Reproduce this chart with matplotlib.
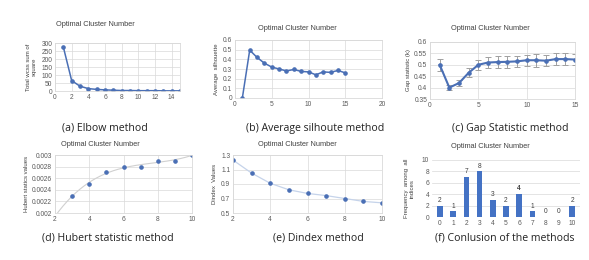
import numpy as np
import matplotlib
matplotlib.use("Agg")
import matplotlib.pyplot as plt

# ---- data ----
elbow_k = list(range(1, 16))
elbow_wss = [275, 65, 30, 15, 10, 7, 5, 3, 3, 2, 2, 2, 1, 1, 1]

sil_k = list(range(1, 16))
sil_vals = [0.0, 0.495, 0.42, 0.36, 0.32, 0.30, 0.28, 0.295, 0.275, 0.27, 0.24, 0.27, 0.265, 0.285, 0.26]

gap_k = list(range(1, 16))
gap_vals = [0.50, 0.40, 0.42, 0.465, 0.50, 0.51, 0.512, 0.513, 0.515, 0.52, 0.52, 0.518, 0.525, 0.525, 0.523]
gap_err = [0.025, 0.012, 0.015, 0.02, 0.022, 0.025, 0.025, 0.025, 0.025, 0.025, 0.028, 0.025, 0.025, 0.025, 0.025]

hub_k = [3, 4, 5, 6, 7, 8, 9, 10]
hub_vals = [0.0023, 0.0025, 0.0027, 0.0028, 0.0028, 0.0029, 0.0029, 0.0030]

din_k = [2, 3, 4, 5, 6, 7, 8, 9, 10]
din_vals = [1.23, 1.05, 0.91, 0.82, 0.77, 0.74, 0.70, 0.66, 0.64]

freq_cats = ["0", "1", "2", "3", "4", "5", "6", "7", "8", "9", "10"]
freq_vals = [2, 1, 7, 8, 3, 2, 4, 1, 0, 0, 2]

W, H = 589, 260
fig = plt.figure(figsize=(W / 100, H / 100), dpi=100)
fig.patch.set_facecolor("white")

BLUE = "#4a6fb5"
GRID = "#d9d9d9"
TICK = "#595959"
TFS = 4.8
plt.rcParams["font.family"] = ["Liberation Sans", "DejaVu Sans"]


def mkax(l, r, t, b):
    ax = fig.add_axes([l / W, 1 - b / H, (r - l) / W, (b - t) / H])
    for s in ax.spines.values():
        s.set_color(GRID)
        s.set_linewidth(0.6)
    ax.tick_params(labelsize=TFS, colors=TICK, length=0, pad=2)
    ax.grid(True, color=GRID, linewidth=0.5)
    ax.set_axisbelow(True)
    return ax


def title(x, y, s="Optimal Cluster Number"):
    fig.text(x / W, 1 - y / H, s, ha="center", va="center", fontsize=5.3, color="#404040")


def caption(x, y, s):
    fig.text(x / W, 1 - y / H, s, ha="center", va="center", fontsize=7.6,
             color="#222222", family=["Open Sans", "DejaVu Sans"])


YL = dict(fontsize=4.3, color="#404040")

# (a) Elbow
ax = mkax(55, 180, 43, 91)
ax.plot(elbow_k, elbow_wss, color=BLUE, lw=1.1, marker="o", ms=2.3)
ax.set_xlim(0, 15)
ax.set_ylim(0, 300)
ax.set_xticks(range(0, 15, 2))
ax.set_yticks(range(0, 301, 50))
ax.set_ylabel("Total wcss sum of\nsquare", labelpad=3, **YL)
title(95, 25)
caption(105, 128, "(a) Elbow method")

# (b) Silhouette
ax = mkax(235, 382, 40, 98)
ax.plot(sil_k, sil_vals, color=BLUE, lw=1.1, marker="o", ms=2.3)
ax.set_xlim(0, 20)
ax.set_ylim(0, 0.6)
ax.set_xticks(range(0, 21, 5))
ax.set_yticks(np.arange(0, 0.61, 0.1))
ax.set_yticklabels(["0", "0.1", "0.2", "0.3", "0.4", "0.5", "0.6"])
ax.set_ylabel("Average  silhouette", labelpad=3, **YL)
title(297, 29)
caption(315, 128, "(b) Average silhoute method")

# (c) Gap statistic
ax = mkax(430, 575, 42, 99)
ax.errorbar(gap_k, gap_vals, yerr=gap_err, color=BLUE, lw=1.5, marker="o", ms=2.3,
            ecolor="#a0a0a0", elinewidth=0.7, capsize=2, capthick=0.7)
ax.set_xlim(0, 15)
ax.set_ylim(0.35, 0.6)
ax.set_xticks([0, 5, 10, 15])
ax.set_yticks([0.35, 0.4, 0.45, 0.5, 0.55, 0.6])
ax.set_yticklabels(["0.35", "0.4", "0.45", "0.5", "0.55", "0.6"])
ax.set_ylabel("Gap statistic (k)", labelpad=2, **YL)
title(490, 29)
caption(510, 128, "(c) Gap Statistic method")

# (d) Hubert
ax = mkax(55, 192, 155, 213)
coef = np.polyfit(hub_k, hub_vals, 3)
xs = np.linspace(2.0, 10, 200)
ax.plot(xs, np.polyval(coef, xs), color="#d0d0d0", lw=0.8)
ax.plot(hub_k, hub_vals, "o", color=BLUE, ms=2.3)
ax.set_xlim(2, 10)
ax.set_ylim(0.002, 0.003)
ax.set_xticks([2, 4, 6, 8, 10])
ax.set_yticks([0.002, 0.0022, 0.0024, 0.0026, 0.0028, 0.003])
ax.set_yticklabels(["0.002", "0.0022", "0.0024", "0.0026", "0.0028", "0.003"])
ax.set_ylabel("Hubert statics values", labelpad=2, **YL)
title(100, 144)
caption(108, 238, "(d) Hubert statistic method")

# (e) Dindex
ax = mkax(233, 382, 155, 213)
ax.plot(din_k, din_vals, color="#c5d3ea", lw=0.9)
ax.plot(din_k, din_vals, "o", color=BLUE, ms=2.3)
ax.set_xlim(2, 10)
ax.set_ylim(0.5, 1.3)
ax.set_xticks([2, 4, 6, 8, 10])
ax.set_yticks([0.5, 0.7, 0.9, 1.1, 1.3])
ax.set_ylabel("Dindex  Values", labelpad=3, **YL)
title(297, 145)
caption(318, 238, "(e) Dindex method")

# (f) Frequency bars
ax = mkax(432, 580, 160, 217)
ax.grid(False)
ax.grid(True, axis="y", color=GRID, linewidth=0.5)
for s in ax.spines.values():
    s.set_visible(False)
xpos = np.arange(len(freq_cats))
bars = ax.bar(xpos, freq_vals, width=0.42, color="#4472c4")
for xp, v in zip(xpos, freq_vals):
    ax.text(xp, v + 0.3, str(v), ha="center", va="bottom", fontsize=4.8,
            color="#404040", fontweight="bold" if v == 4 else "normal")
ax.set_xlim(-0.6, 10.6)
ax.set_ylim(0, 10)
ax.set_xticks(xpos)
ax.set_xticklabels(freq_cats)
ax.set_yticks(range(0, 11, 2))
ax.set_ylabel("Frequency  among  all\nindices", labelpad=5, **YL)
title(490, 147)
caption(505, 238, "(f) Conlusion of the methods")

fig.savefig("out.png", dpi=100, facecolor="white")
